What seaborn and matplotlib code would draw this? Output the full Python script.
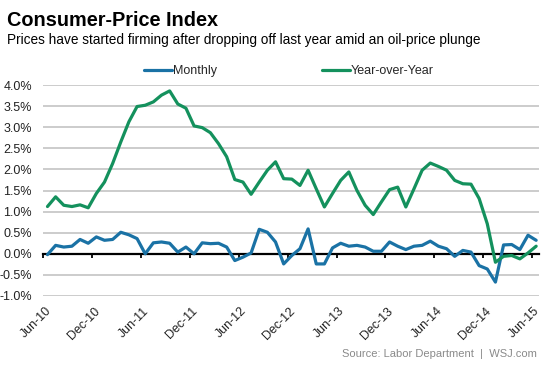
import numpy as np
import pandas as pd
import matplotlib
matplotlib.use("Agg")
import matplotlib.pyplot as plt
import matplotlib.transforms as mtransforms
import seaborn as sns
from matplotlib.lines import Line2D

# ---- data (percent) ----
months = pd.date_range("2010-06-01", "2015-06-01", freq="MS")
monthly = [-0.02, 0.20, 0.16, 0.18, 0.34, 0.25, 0.40, 0.32, 0.34, 0.51,
           0.45, 0.36, 0.00, 0.26, 0.28, 0.25, 0.04, 0.16, 0.00, 0.26,
           0.24, 0.25, 0.16, -0.16, -0.08, 0.02, 0.58, 0.51, 0.28, -0.24,
           -0.04, 0.12, 0.59, -0.24, -0.24, 0.14, 0.25, 0.18, 0.20, 0.16,
           0.06, 0.06, 0.28, 0.18, 0.10, 0.18, 0.20, 0.30, 0.18, 0.12,
           -0.06, 0.08, 0.04, -0.28, -0.36, -0.67, 0.21, 0.22, 0.10, 0.44,
           0.32]
yoy = [1.12, 1.35, 1.15, 1.12, 1.16, 1.09, 1.43, 1.70, 2.14, 2.65,
       3.13, 3.49, 3.52, 3.60, 3.76, 3.86, 3.55, 3.45, 3.03, 2.99,
       2.87, 2.61, 2.30, 1.76, 1.70, 1.41, 1.70, 1.98, 2.18, 1.78,
       1.77, 1.62, 1.98, 1.54, 1.11, 1.43, 1.74, 1.94, 1.50, 1.15,
       0.93, 1.23, 1.52, 1.58, 1.11, 1.54, 1.98, 2.15, 2.07, 1.98,
       1.74, 1.66, 1.65, 1.31, 0.71, -0.20, -0.06, -0.04, -0.12, 0.02,
       0.18]
series_names = ["Monthly", "Year-over-Year"]
tick_labels = ["Jun-10", "Dec-10", "Jun-11", "Dec-11", "Jun-12", "Dec-12",
               "Jun-13", "Dec-13", "Jun-14", "Dec-14", "Jun-15"]
y_ticks = [-1.0, -0.5, 0.0, 0.5, 1.0, 1.5, 2.0, 2.5, 3.0, 3.5, 4.0]

title = "Consumer-Price Index"
subtitle = "Prices have started firming after dropping off last year amid an oil-price plunge"
source = "Source: Labor Department  |  WSJ.com"

BLUE = "#1a72a5"
GREEN = "#14915d"

sns.set_theme(style="white")
plt.rcParams["font.family"] = ["Liberation Sans", "DejaVu Sans"]

n = len(months)
df = pd.DataFrame({
    "idx": list(range(n)) * 2,
    "value": monthly + yoy,
    "series": [series_names[0]] * n + [series_names[1]] * n,
})

fig = plt.figure(figsize=(5.53, 3.69), dpi=100)
ax = fig.add_axes([43 / 553, 1 - 296 / 369, (539 - 43) / 553, (296 - 85) / 369])

sns.lineplot(data=df, x="idx", y="value", hue="series",
             palette={series_names[0]: BLUE, series_names[1]: GREEN},
             linewidth=2.3, ax=ax, legend=False, zorder=3)

for s in ["top", "right", "left"]:
    ax.spines[s].set_visible(False)
ax.spines["bottom"].set_position(("data", 0))
ax.spines["bottom"].set_color("black")
ax.spines["bottom"].set_linewidth(1.6)
ax.spines["bottom"].set_zorder(2.5)

ax.set_ylim(-1.0, 4.0)
ax.set_xlim(-0.55, 60.35)
ax.set_yticks(y_ticks)
ax.set_yticklabels([f"{v:.1f}%" for v in y_ticks])
ax.grid(axis="y", color="#cccccc", linewidth=1.4)
ax.grid(axis="x", visible=False)
ax.set_axisbelow(True)

tick_pos = [i * 6 - 0.5 for i in range(len(tick_labels))]
ax.set_xticks(tick_pos)
ax.set_xticklabels(tick_labels)
ax.tick_params(axis="x", direction="out", length=3, width=1.3, color="black",
               pad=37, labelsize=9, labelcolor="#222222", bottom=True)
ax.tick_params(axis="y", length=0, pad=8, labelsize=9, labelcolor="#222222")
offset = mtransforms.ScaledTranslation(6 / 100, 0, fig.dpi_scale_trans)
for lab in ax.get_xticklabels():
    lab.set_rotation(45)
    lab.set_ha("right")
    lab.set_va("center")
    lab.set_rotation_mode("anchor")
    lab.set_transform(lab.get_transform() + offset)
ax.set_xlabel("")
ax.set_ylabel("")

# legend
handles = [Line2D([], [], color=BLUE, lw=2.3), Line2D([], [], color=GREEN, lw=2.3)]
fig.legend(handles, series_names, loc="center", ncol=2,
           bbox_to_anchor=((140 + 438) / 2 / 553, 1 - 71 / 369),
           frameon=False, fontsize=9, handlelength=2.2, handletextpad=0.1,
           columnspacing=8.4, borderpad=0)

fig.text(7 / 553, 1 - 21 / 369, title, fontsize=14.3, fontweight="bold",
         ha="left", va="center", color="black")
fig.text(7 / 553, 1 - 40 / 369, subtitle, fontsize=9.85, ha="left",
         va="center", color="black")
fig.text(537 / 553, 1 - 354 / 369, source, fontsize=8, ha="right",
         va="center", color="#8a8a8a")

fig.savefig("out.png", dpi=100)
